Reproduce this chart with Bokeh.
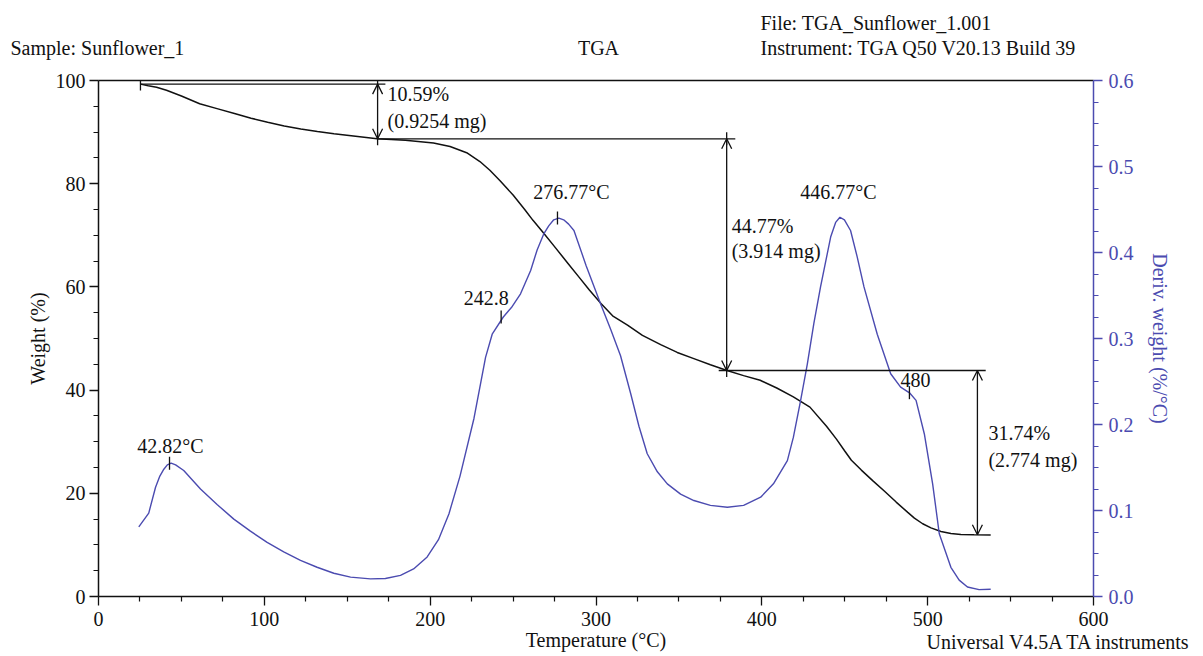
import math
from bokeh.plotting import figure
from bokeh.models import (Range1d, LinearAxis, Arrow, OpenHead, FixedTicker,
                          NumeralTickFormatter)
from bokeh.embed import file_html
from bokeh.resources import INLINE
from bokeh.core.properties import value

# ---------------- data ----------------
temp_w = [25.3, 30, 35, 41, 50, 61, 72, 82, 92, 102, 112, 122, 132, 142, 155, 168, 185, 202,
          212, 222, 230, 236, 242, 250, 257, 262, 268, 275, 283, 290, 296, 303, 310, 319, 328,
          339, 349, 359, 369, 379, 389, 399, 409, 419, 429, 439, 445, 450, 454, 460, 467, 474,
          481, 488, 492, 497, 502, 508, 514, 520, 528, 538]
weight = [99.3, 99.0, 98.7, 98.1, 97.0, 95.5, 94.5, 93.6, 92.7, 91.9, 91.2, 90.6, 90.1, 89.7,
          89.2, 88.7, 88.4, 87.9, 87.2, 86.0, 84.3, 82.6, 80.6, 77.8, 75.0, 72.9, 70.6, 67.8,
          64.6, 61.8, 59.4, 56.8, 54.4, 52.6, 50.6, 48.8, 47.3, 46.1, 44.9, 43.8, 42.8, 41.9,
          40.4, 38.7, 36.7, 33.0, 30.5, 28.2, 26.4, 24.5, 22.4, 20.4, 18.3, 16.3, 15.2, 14.1,
          13.3, 12.6, 12.2, 12.0, 11.95, 11.9]

temp_d = [24.3, 30.3, 34.4, 37.0, 39.4, 41.5, 43.8, 46.5, 51.4, 61.5, 71.5, 81.6, 91.6, 101.7,
          111.7, 121.8, 131.8, 141.9, 152, 164, 173, 182.1, 190, 198.2, 205, 211.3, 218, 226.4,
          233.4, 237.4, 244.1, 249, 254.5, 260.6, 264.5, 268.6, 271.5, 274.5, 277.6, 280.5,
          283.5, 286.7, 294, 302.8, 309, 314.8, 320.9, 325.9, 330.9, 337, 343, 351, 359, 369,
          379.2, 389, 399.3, 407, 415.4, 419, 423.4, 427.4, 431.4, 435.4, 441.5, 444.5, 447.1,
          449.8, 453.5, 457.5, 461.6, 469.6, 477.7, 483.7, 489.3, 493, 498, 503, 507, 514, 519,
          524, 531, 538]
deriv = [0.081, 0.097, 0.127, 0.140, 0.148, 0.153, 0.155, 0.153, 0.1465, 0.125, 0.107, 0.090,
         0.076, 0.063, 0.052, 0.042, 0.034, 0.027, 0.0225, 0.0205, 0.021, 0.0245, 0.032, 0.046,
         0.066, 0.096, 0.140, 0.207, 0.278, 0.305, 0.325, 0.336, 0.352, 0.379, 0.403, 0.422,
         0.431, 0.438, 0.440, 0.438, 0.433, 0.4256, 0.385, 0.340, 0.310, 0.280, 0.236, 0.198,
         0.166, 0.145, 0.131, 0.119, 0.1116, 0.106, 0.1038, 0.106, 0.1155, 0.131, 0.158, 0.185,
         0.228, 0.270, 0.318, 0.360, 0.418, 0.435, 0.441, 0.438, 0.4256, 0.395, 0.360, 0.305,
         0.259, 0.2434, 0.2364, 0.228, 0.189, 0.131, 0.073, 0.034, 0.019, 0.011, 0.008, 0.0085]

# weight-loss steps
step_T = [168.3, 378.8, 530.0]
step_top = [99.3, 88.7, 43.8]
step_bot = [88.7, 43.8, 11.96]
step_pct = ["10.59%", "44.77%", "31.74%"]
step_mg = ["(0.9254 mg)", "(3.914 mg)", "(2.774 mg)"]
base_W = [99.3, 88.7, 43.8]
base_T0 = [25.3, 168.3, 374.0]
base_T1 = [173.0, 384.0, 535.0]

# derivative peaks
peak_T = [42.82, 242.8, 276.77, 446.77, 489.0]
peak_D = [0.155, 0.325, 0.440, 0.441, 0.237]
peak_lbl = ["42.82°C", "242.8", "276.77°C", "446.77°C", "480"]
peak_marked = [True, True, True, False, True]

# axes ticks
x_ticks = [0, 100, 200, 300, 400, 500, 600]
w_ticks = [0, 20, 40, 60, 80, 100]
d_ticks = [0.0, 0.1, 0.2, 0.3, 0.4, 0.5, 0.6]

# header / footer texts
header_texts = ["Sample: Sunflower_1", "TGA", "File: TGA_Sunflower_1.001",
                "Instrument: TGA Q50 V20.13 Build 39", "Universal V4.5A TA instruments"]

# ---------------- styles / layout ----------------
FONT = "Liberation Serif"
FS = "20px"
BLUE = "#4b4bb0"
BLACK = "#111111"
PAGE_W, PAGE_H = 1200, 656
FL, FT, FW, FH = 98, 80, 995, 516          # frame left/top/width/height in page px

# page-pixel anchors of the header / footer texts
hdr_px = [10, 598, 760, 760, 926]
hdr_py = [47, 47, 22, 47, 641]
hdr_align = ["left", "center", "left", "left", "left"]


def minor_of(ticks, n):
    out = []
    for a, b in zip(ticks[:-1], ticks[1:]):
        for k in range(1, n):
            out.append(a + (b - a) * k / n)
    return out


p = figure(width=PAGE_W, height=PAGE_H, x_range=Range1d(0, 600), y_range=Range1d(0, 100),
           output_backend="svg", toolbar_location=None,
           min_border_left=FL, min_border_right=PAGE_W - FL - FW, min_border_top=FT,
           min_border_bottom=PAGE_H - FT - FH)
p.extra_y_ranges = {"deriv": Range1d(0, 0.6)}
p.grid.visible = False
p.outline_line_color = None


def style_axis(ax, color):
    ax.axis_line_color = color
    ax.axis_line_width = 1.5
    ax.major_tick_line_color = color
    ax.minor_tick_line_color = color
    ax.major_tick_line_width = 1.3
    ax.minor_tick_line_width = 1.2
    ax.major_tick_out = 9
    ax.major_tick_in = 0
    ax.minor_tick_out = 5
    ax.minor_tick_in = 0
    ax.major_label_text_font = FONT
    ax.major_label_text_font_size = FS
    ax.major_label_text_color = color
    ax.axis_label_text_font = FONT
    ax.axis_label_text_font_size = FS
    ax.axis_label_text_font_style = "normal"
    ax.axis_label_text_color = color


xa = p.xaxis[0]
xa.ticker = FixedTicker(ticks=x_ticks, minor_ticks=minor_of(x_ticks, 4))
xa.axis_label = "Temperature (°C)"
style_axis(xa, BLACK)
xa.major_label_standoff = 6
xa.axis_label_standoff = 0

ya = p.yaxis[0]
ya.ticker = FixedTicker(ticks=w_ticks, minor_ticks=minor_of(w_ticks, 4))
ya.axis_label = "Weight (%)"
style_axis(ya, BLACK)
ya.major_label_standoff = 4
ya.axis_label_standoff = 4

ra = LinearAxis(y_range_name="deriv", axis_label="Deriv. weight (%/°C)",
                ticker=FixedTicker(ticks=d_ticks, minor_ticks=minor_of(d_ticks, 4)),
                formatter=NumeralTickFormatter(format="0.0"))
style_axis(ra, BLUE)
ra.major_label_standoff = 6
ra.axis_label_standoff = 12
p.add_layout(ra, "right")

ta = LinearAxis(ticker=FixedTicker(ticks=[]), axis_line_color=BLACK, axis_line_width=1.5,
                major_label_text_font_size="0px", major_tick_line_color=None,
                minor_tick_line_color=None, major_label_standoff=0, axis_label_standoff=0)
p.add_layout(ta, "above")

# curves
p.line(temp_w, weight, line_color=BLACK, line_width=1.5)
p.line(temp_d, deriv, line_color=BLUE, line_width=1.4, y_range_name="deriv")

# step baselines
p.segment(x0=base_T0, y0=base_W, x1=base_T1, y1=base_W, line_color=BLACK, line_width=1.3)

# step arrows
for t, y0, y1 in zip(step_T, step_top, step_bot):
    p.add_layout(Arrow(start=OpenHead(size=10, line_color=BLACK, line_width=1.3),
                       end=OpenHead(size=10, line_color=BLACK, line_width=1.3),
                       x_start=t, y_start=y0, x_end=t, y_end=y1,
                       line_color=BLACK, line_width=1.3))

# cross ticks at step limits
cx = [base_T0[0], step_T[0], step_T[0], step_T[1], step_T[1]]
cy = [base_W[0], step_top[0], step_bot[0], step_top[1], step_bot[1]]
p.scatter(x=cx, y=cy, marker="dash", angle=math.pi / 2, size=13,
          line_color=BLACK, line_width=1.3)

# step labels
mid = [(a + b) / 2 for a, b in zip(step_top, step_bot)]
p.text(x=step_T, y=mid, text=step_pct, x_offset=[10, 5, 11], y_offset=[-17, -29, -20],
       text_font=value(FONT), text_font_size=FS, text_color=BLACK,
       text_align="left", text_baseline="middle")
p.text(x=step_T, y=mid, text=step_mg, x_offset=[10, 5, 11], y_offset=[10, -4, 7],
       text_font=value(FONT), text_font_size=FS, text_color=BLACK,
       text_align="left", text_baseline="middle")

# peak marks & labels
mx = [t for t, m in zip(peak_T, peak_marked) if m]
my = [d for d, m in zip(peak_D, peak_marked) if m]
p.scatter(x=mx, y=my, marker="dash", angle=math.pi / 2, size=13, line_color=BLACK,
          line_width=1.3, y_range_name="deriv")
p.text(x=peak_T, y=peak_D, text=peak_lbl, x_offset=[1, -15, 14, -1, 6],
       y_offset=[-17, -19, -26, -25, -13], text_font=value(FONT), text_font_size=FS,
       text_color=BLACK, text_align="center", text_baseline="middle", y_range_name="deriv")

# header / footer texts: page-pixel anchors converted to data units, drawn un-clipped
hx = [(px - FL) * 600 / FW for px in hdr_px]
hy = [(FT + FH - py) * 100 / FH for py in hdr_py]
p.text(x=hx, y=hy, text=header_texts, text_align=hdr_align, text_baseline="middle",
       text_font=value(FONT), text_font_size=FS, text_color=BLACK, level="overlay")

open("out.html", "w").write(file_html(p, INLINE))
